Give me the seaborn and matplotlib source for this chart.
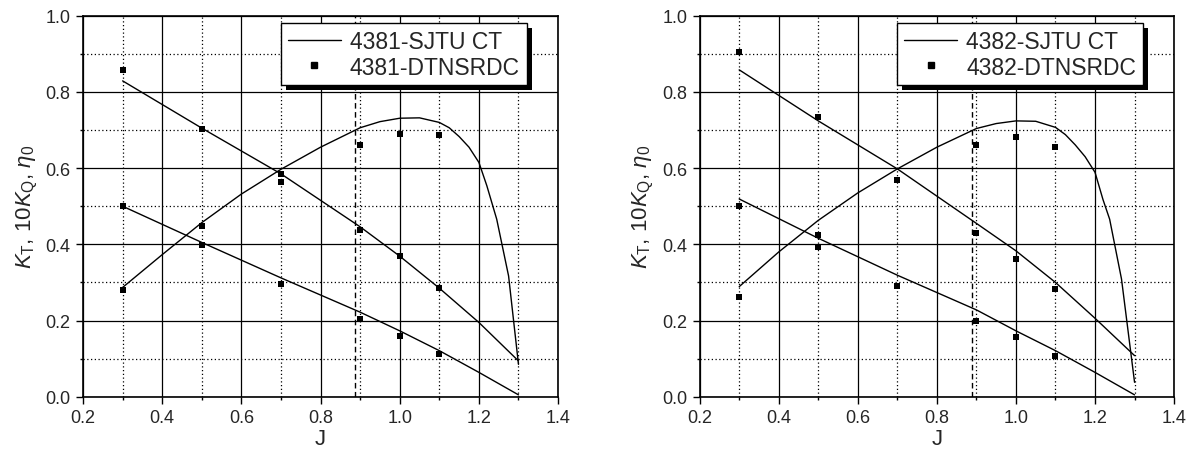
import numpy as np
import pandas as pd
import matplotlib
matplotlib.use("Agg")
import matplotlib.pyplot as plt
import seaborn as sns
from matplotlib.lines import Line2D
from matplotlib.patches import Rectangle
from matplotlib.transforms import IdentityTransform
from matplotlib.ticker import MultipleLocator, FormatStrFormatter

# ---- data ----
# experimental (DTNSRDC) points
J_exp = [0.3, 0.5, 0.7, 0.9, 1.0, 1.1]
kt_exp_4381 = [0.500, 0.397, 0.295, 0.203, 0.159, 0.112]
kq_exp_4381 = [0.858, 0.704, 0.563, 0.437, 0.369, 0.285]
eta_exp_4381 = [0.279, 0.448, 0.584, 0.662, 0.689, 0.687]

kt_exp_4382 = [0.501, 0.392, 0.290, 0.198, 0.156, 0.106]
kq_exp_4382 = [0.906, 0.733, 0.569, 0.431, 0.361, 0.282]
eta_exp_4382 = [0.263, 0.424, 0.569, 0.660, 0.681, 0.655]

# computed (SJTU CT) curves
J_ct = [0.3, 0.5, 0.7, 0.9, 1.0, 1.1, 1.2, 1.3]
kt_ct_4381 = [0.500, 0.405, 0.312, 0.222, 0.173, 0.121, 0.064, 0.005]
kq_ct_4381 = [0.829, 0.705, 0.585, 0.446, 0.369, 0.285, 0.195, 0.094]
kt_ct_4382 = [0.519, 0.416, 0.319, 0.228, 0.173, 0.121, 0.064, 0.005]
kq_ct_4382 = [0.858, 0.724, 0.598, 0.455, 0.383, 0.300, 0.206, 0.108]

J_eta_4381 = [0.3, 0.4, 0.5, 0.6, 0.7, 0.8, 0.9, 0.95, 1.0, 1.05, 1.1, 1.125, 1.15, 1.175,
              1.2, 1.22, 1.245, 1.275, 1.3]
eta_ct_4381 = [0.287, 0.373, 0.457, 0.532, 0.597, 0.655, 0.706, 0.722, 0.731, 0.732, 0.720, 0.706,
               0.683, 0.655, 0.615, 0.554, 0.466, 0.317, 0.085]
J_eta_4382 = [0.3, 0.4, 0.5, 0.6, 0.7, 0.8, 0.9, 0.95, 1.0, 1.05, 1.1, 1.125, 1.15, 1.175,
              1.2, 1.22, 1.237, 1.267, 1.3]
eta_ct_4382 = [0.289, 0.380, 0.463, 0.535, 0.598, 0.655, 0.704, 0.717, 0.724, 0.723, 0.707, 0.688,
               0.661, 0.630, 0.589, 0.518, 0.466, 0.309, 0.038]

J_design = 0.888

# ---- style ----
sns.set_style("white")
plt.rcParams['font.family'] = ['Liberation Sans', 'DejaVu Sans']
plt.rcParams['mathtext.fontset'] = 'custom'
plt.rcParams['mathtext.rm'] = 'Liberation Sans'
plt.rcParams['mathtext.it'] = 'Liberation Sans:italic'

fig = plt.figure(figsize=(11.95, 4.52), dpi=100)
ax1 = fig.add_axes([0.0695, 0.120, 0.3975, 0.843])
ax2 = fig.add_axes([0.5855, 0.120, 0.397, 0.843])

panels = [
    (ax1, "4381", kt_ct_4381, kq_ct_4381, J_eta_4381, eta_ct_4381,
     kt_exp_4381, kq_exp_4381, eta_exp_4381),
    (ax2, "4382", kt_ct_4382, kq_ct_4382, J_eta_4382, eta_ct_4382,
     kt_exp_4382, kq_exp_4382, eta_exp_4382),
]

for ax, name, kt_ct, kq_ct, J_eta, eta_ct, kt_exp, kq_exp, eta_exp in panels:
    # CT curves
    for xs, ys in [(J_ct, kt_ct), (J_ct, kq_ct), (J_eta, eta_ct)]:
        sns.lineplot(x=xs, y=ys, ax=ax, color="black", lw=1.0,
                     estimator=None, legend=False)
    # experimental points
    exp = pd.DataFrame({"J": J_exp * 3, "v": kt_exp + kq_exp + eta_exp})
    sns.scatterplot(data=exp, x="J", y="v", ax=ax, color="black",
                    marker="s", s=18, linewidth=0, legend=False, zorder=3)

    ax.axvline(J_design, color="black", lw=1.0, ls=(0, (4, 2.5)), zorder=2)

    ax.set_xlim(0.2, 1.4)
    ax.set_ylim(0.0, 1.0)
    ax.xaxis.set_major_locator(MultipleLocator(0.2))
    ax.xaxis.set_minor_locator(MultipleLocator(0.1))
    ax.yaxis.set_major_locator(MultipleLocator(0.2))
    ax.yaxis.set_minor_locator(MultipleLocator(0.1))
    ax.xaxis.set_major_formatter(FormatStrFormatter("%.1f"))
    ax.yaxis.set_major_formatter(FormatStrFormatter("%.1f"))
    ax.grid(which="major", color="black", lw=0.9, ls="-")
    ax.grid(which="minor", color="black", lw=0.9, ls=(0, (1, 2)))
    ax.set_axisbelow(True)
    ax.tick_params(which="major", direction="out", length=5, width=1,
                   labelsize=13, pad=4, bottom=True, left=True, color="black")
    ax.tick_params(which="minor", direction="out", length=2.5, width=1,
                   bottom=True, left=True, color="black")
    for sp in ax.spines.values():
        sp.set_color("black")
        sp.set_linewidth(1.2)

    ax.set_xlabel("J", fontsize=16, labelpad=1)
    ax.set_ylabel(r"$K_\mathrm{T}$, 10$K_\mathrm{Q}$, $\eta_0$", fontsize=16, labelpad=4)

    handles = [
        Line2D([], [], color="black", lw=1.0),
        Line2D([], [], color="black", marker="s", ms=4.2, ls="none"),
    ]
    leg = ax.legend(handles, [f"{name}-SJTU CT", f"{name}-DTNSRDC"],
                    loc="upper right", bbox_to_anchor=(0.934, 0.980),
                    borderaxespad=0, fancybox=False, framealpha=1,
                    edgecolor="black", fontsize=16.5, handlelength=2.3,
                    handletextpad=0.4, labelspacing=0.1, borderpad=0.3)
    leg.get_frame().set_linewidth(1.0)
    ax._leg = leg

# solid black drop shadow behind the legends
fig.canvas.draw()
for ax in (ax1, ax2):
    bb = ax._leg.get_window_extent()
    shadow = Rectangle((bb.x0 + 5, bb.y0 - 5), bb.width, bb.height,
                       transform=IdentityTransform(), facecolor="black",
                       edgecolor="none", zorder=4.9, clip_on=False)
    ax.add_patch(shadow)

fig.savefig("out.png", dpi=100)
